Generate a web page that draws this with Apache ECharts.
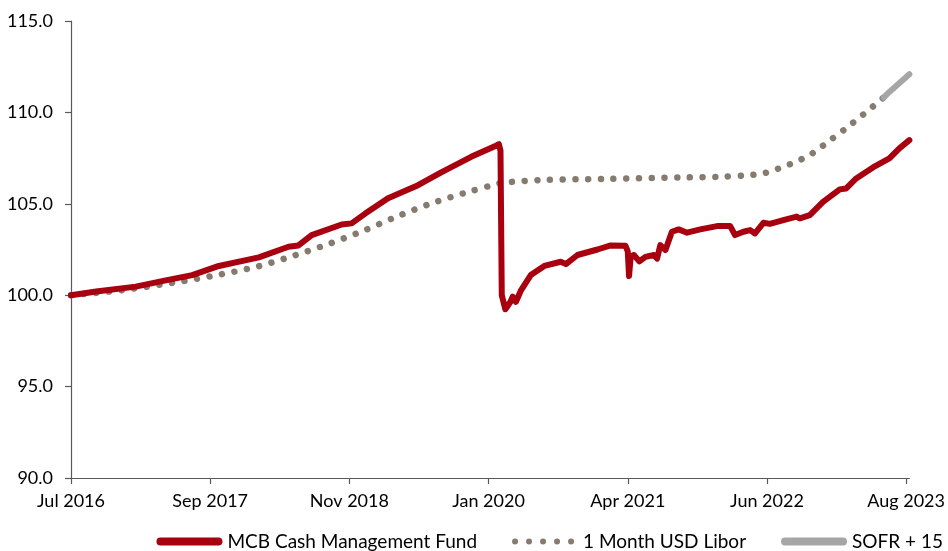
<!DOCTYPE html>
<html>
<head>
<meta charset="utf-8">
<script src="https://cdn.jsdelivr.net/npm/echarts@6/dist/echarts.min.js"></script>
<style>
    html, body { margin: 0; padding: 0; background: #fff; }
    #main { width: 948px; height: 551px; }
</style>
</head>
<body>
<div id="main"></div>
<script>
var startDate = '2016-07-15';
var tickStep = 432; // days between axis labels
var xTickLabels = ['Jul 2016', 'Sep 2017', 'Nov 2018', 'Jan 2020', 'Apr 2021', 'Jun 2022', 'Aug 2023'];

var mcbDates = ['2016-07-15', '2016-10-01', '2017-02-01', '2017-05-01', '2017-07-26', '2017-10-17', '2018-02-18',
    '2018-05-21', '2018-06-21', '2018-08-01', '2018-11-02', '2018-12-03', '2019-01-13', '2019-03-26',
    '2019-06-27', '2019-09-07', '2019-12-09', '2020-02-24', '2020-03-04', '2020-03-09', '2020-03-13',
    '2020-03-16', '2020-03-24', '2020-04-09', '2020-04-16', '2020-04-26', '2020-05-12', '2020-06-11',
    '2020-07-23', '2020-09-12', '2020-09-28', '2020-11-03', '2021-01-04', '2021-02-14', '2021-04-01',
    '2021-04-08', '2021-04-12', '2021-04-17', '2021-04-27', '2021-05-14', '2021-06-02', '2021-06-28',
    '2021-07-08', '2021-07-18', '2021-08-03', '2021-08-23', '2021-09-13', '2021-10-09', '2021-11-19',
    '2022-01-10', '2022-02-20', '2022-03-07', '2022-04-02', '2022-04-23', '2022-05-08', '2022-06-03',
    '2022-06-23', '2022-08-04', '2022-09-14', '2022-09-24', '2022-10-25', '2022-12-05', '2023-01-26',
    '2023-02-15', '2023-03-18', '2023-05-09', '2023-06-29', '2023-07-30', '2023-08-30'];
var mcbValues = [100.0, 100.2, 100.47, 100.8, 101.1, 101.6, 102.07,
    102.65, 102.72, 103.29, 103.87, 103.93, 104.45, 105.3,
    106.02, 106.72, 107.57, 108.18, 108.26, 107.9, 100.0,
    99.9, 99.23, 99.64, 99.92, 99.64, 100.28, 101.1,
    101.6, 101.83, 101.7, 102.2, 102.5, 102.72, 102.7,
    102.4, 101.05, 102.1, 102.2, 101.85, 102.1, 102.2,
    102.0, 102.74, 102.47, 103.47, 103.6, 103.42, 103.6,
    103.78, 103.78, 103.29, 103.47, 103.56, 103.38, 103.96,
    103.9, 104.11, 104.3, 104.2, 104.38, 105.11, 105.79,
    105.84, 106.39, 106.99, 107.48, 108.03, 108.48];

var liborDates = ['2016-07-15', '2016-12-22', '2017-07-01', '2017-10-23', '2018-02-12', '2018-06-06', '2018-09-22',
    '2019-01-08', '2019-04-21', '2019-08-07', '2019-11-24', '2020-02-09', '2020-03-16', '2020-07-12',
    '2021-01-24', '2021-09-23', '2022-01-20', '2022-04-07', '2022-05-18', '2022-06-23', '2022-07-29',
    '2022-09-04', '2022-10-09', '2022-11-09', '2022-12-10', '2023-02-10', '2023-04-10', '2023-06-11'];
var liborValues = [100.0, 100.28, 100.78, 101.14, 101.56, 102.16, 102.8,
    103.52, 104.29, 105.02, 105.62, 106.0, 106.15, 106.3,
    106.36, 106.44, 106.48, 106.55, 106.62, 106.75, 106.99,
    107.24, 107.52, 107.84, 108.25, 109.07, 109.9, 110.81];

var sofrDates = ['2023-06-11', '2023-06-29', '2023-08-30'];
var sofrValues = [110.81, 111.12, 112.09];

function toDay(d) {
    return (Date.parse(d) - Date.parse(startDate)) / 86400000;
}
function pairs(dates, values) {
    var out = [];
    for (var i = 0; i < dates.length; i++) {
        out.push([toDay(dates[i]), values[i]]);
    }
    return out;
}

var tickDays = [];
for (var k = 0; k < xTickLabels.length; k++) {
    tickDays.push(k * tickStep);
}

// legend icons: rounded bar and a row of dots (66 x 8 box)
var barIcon = 'path://M4,0 L62,0 A4,4 0 0,1 62,8 L4,8 A4,4 0 0,1 4,0 Z';
var dotIcon = 'path://M0,0 M66,8';
for (var d = 0; d < 5; d++) {
    var cx = 3 + d * 14;
    dotIcon += ' M' + (cx - 3) + ',4 A3,3 0 1,0 ' + (cx + 3) + ',4 A3,3 0 1,0 ' + (cx - 3) + ',4 Z';
}

var font = 'Lato, "Noto Sans", sans-serif';
var myChart = echarts.init(document.getElementById('main'));
var option = {
    animation: false,
    backgroundColor: '#ffffff',
    textStyle: { fontFamily: font },
    grid: { left: 71, right: 35, top: 21, bottom: 73 },
    legend: {
        right: 5,
        top: 532,
        padding: 0,
        itemGap: 35,
        itemWidth: 66,
        itemHeight: 8,
        textStyle: { fontFamily: font, fontSize: 19, color: '#000' },
        data: [
            { name: 'MCB Cash Management Fund', icon: barIcon },
            { name: '1 Month USD Libor', icon: dotIcon },
            { name: 'SOFR + 15', icon: barIcon }
        ]
    },
    xAxis: {
        type: 'value',
        min: 0,
        max: toDay('2023-08-30'),
        splitLine: { show: false },
        axisLine: { lineStyle: { color: '#595959', width: 1.2 } },
        axisTick: { length: 6, customValues: tickDays, lineStyle: { color: '#595959', width: 1.2 } },
        axisLabel: {
            customValues: tickDays,
            margin: 14,
            fontFamily: font,
            fontSize: 18,
            color: '#000',
            formatter: function (v) {
                return xTickLabels[Math.round(v / tickStep)] || '';
            }
        }
    },
    yAxis: {
        type: 'value',
        min: 90,
        max: 115,
        interval: 5,
        splitLine: { show: false },
        axisLine: { show: true, lineStyle: { color: '#595959', width: 1.2 } },
        axisTick: { show: true, length: 6, lineStyle: { color: '#595959', width: 1.2 } },
        axisLabel: {
            margin: 18,
            fontFamily: font,
            fontSize: 18,
            color: '#000',
            formatter: function (v) { return v.toFixed(1); }
        }
    },
    series: [
        {
            name: 'MCB Cash Management Fund',
            type: 'line',
            symbol: 'none',
            z: 3,
            data: pairs(mcbDates, mcbValues),
            lineStyle: { color: '#A8000F', width: 6, join: 'round', cap: 'round' },
            itemStyle: { color: '#A8000F' }
        },
        {
            name: '1 Month USD Libor',
            type: 'line',
            symbol: 'none',
            smooth: 0.3,
            z: 2,
            data: pairs(liborDates, liborValues),
            lineStyle: { color: '#857B6E', width: 6.5, type: [0.01, 12.7], cap: 'round' },
            itemStyle: { color: '#857B6E' }
        },
        {
            name: 'SOFR + 15',
            type: 'line',
            symbol: 'none',
            z: 2,
            data: pairs(sofrDates, sofrValues),
            lineStyle: { color: '#A6A6A6', width: 6, cap: 'round' },
            itemStyle: { color: '#A6A6A6' }
        }
    ]
};
myChart.setOption(option);
</script>
</body>
</html>
